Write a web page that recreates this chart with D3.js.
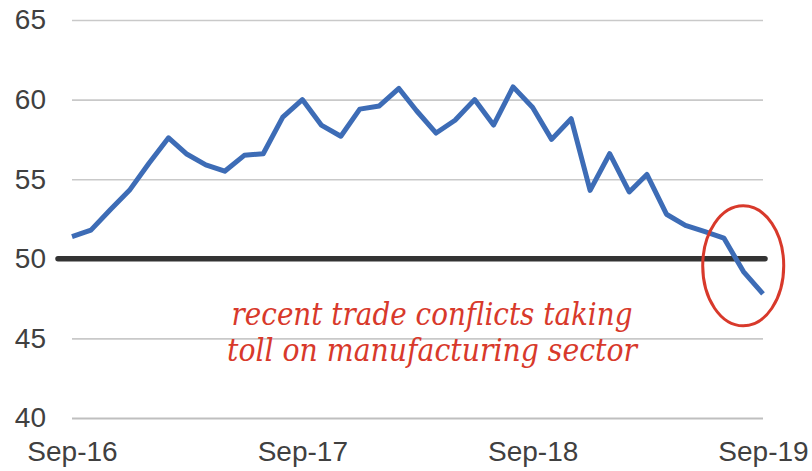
<!DOCTYPE html>
<html>
<head>
<meta charset="utf-8">
<script src="https://cdn.jsdelivr.net/npm/d3@7"></script>
<style>
  body { margin: 0; background: #fff; }
  svg { display: block; }
  .axis text { font-family: "Liberation Sans", Arial, sans-serif; font-size: 28px; fill: #404040; }
  .grid line { stroke: #c9c9c9; stroke-width: 1.6px; }
  .note { font-family: "DejaVu Serif Condensed", "DejaVu Serif", Georgia, serif; font-style: italic; font-size: 31px; fill: #d8392b; }
</style>
</head>
<body>
<svg id="chart"></svg>
<script>
// monthly index readings, Sep-16 .. Sep-19
var startMonth = "2016-09";
var pmiValues = [51.4, 51.8, 53.1, 54.3, 56.0, 57.6, 56.6, 55.9, 55.5, 56.5,
                 56.6, 58.9, 60.0, 58.4, 57.7, 59.4, 59.6, 60.7, 59.3, 57.9,
                 58.7, 60.0, 58.4, 60.8, 59.5, 57.5, 58.8, 54.3, 56.6, 54.2,
                 55.3, 52.8, 52.1, 51.7, 51.3, 49.2, 47.8];
var xTickLabels = ["Sep-16", "Sep-17", "Sep-18", "Sep-19"];
var yTicks = [40, 45, 50, 55, 60, 65];
var threshold = 50;
var noteLines = ["recent trade conflicts taking", "toll on manufacturing sector"];

function drawChart() {
  var width = 812, height = 471;
  var plotLeft = 72, plotRight = 763, plotTop = 20, plotBottom = 418;

  var svg = d3.select("#chart").attr("width", width).attr("height", height);

  var parseMonth = d3.timeParse("%Y-%m");
  var start = parseMonth(startMonth);
  var data = pmiValues.map(function(v, i) {
    return { date: d3.timeMonth.offset(start, i), value: v };
  });

  var x = d3.scaleTime()
    .domain(d3.extent(data, function(d) { return d.date; }))
    .range([plotLeft, plotRight]);

  var y = d3.scaleLinear()
    .domain([d3.min(yTicks), d3.max(yTicks)])
    .range([plotBottom, plotTop]);

  // gridlines + y labels
  var yAxis = svg.append("g")
    .attr("class", "axis grid")
    .attr("transform", "translate(" + plotLeft + ",0)")
    .call(d3.axisLeft(y).tickValues(yTicks).tickSize(-(plotRight - plotLeft)).tickPadding(26));
  yAxis.select(".domain").remove();
  yAxis.selectAll(".tick").filter(function(d) { return d === 40; })
    .select("line").style("stroke", "#bfbfbf").style("stroke-width", "2.2px");

  // x labels
  var xTickDates = xTickLabels.map(function(l, i) { return d3.timeYear.offset(start, i); });
  var xAxis = svg.append("g")
    .attr("class", "axis")
    .attr("transform", "translate(0," + plotBottom + ")")
    .call(d3.axisBottom(x).tickValues(xTickDates).tickSize(0).tickPadding(23)
      .tickFormat(function(d, i) { return xTickLabels[i]; }));
  xAxis.select(".domain").remove();

  // threshold line at 50
  svg.append("line")
    .attr("x1", plotLeft - 14)
    .attr("x2", plotRight + 2)
    .attr("y1", y(threshold))
    .attr("y2", y(threshold))
    .attr("stroke", "#333333")
    .attr("stroke-width", 5.5)
    .attr("stroke-linecap", "round");

  var line = d3.line()
    .x(function(d) { return x(d.date); })
    .y(function(d) { return y(d.value); });

  svg.append("path")
    .datum(data)
    .attr("d", line)
    .attr("fill", "none")
    .attr("stroke", "#3d6cb6")
    .attr("stroke-width", 5)
    .attr("stroke-linejoin", "round");

  // ellipse highlighting latest readings
  var last = data[data.length - 1], prev = data[data.length - 2];
  svg.append("ellipse")
    .attr("cx", (x(last.date) + x(prev.date)) / 2 - 10)
    .attr("cy", y(threshold) + 7)
    .attr("rx", 40.5)
    .attr("ry", 60)
    .attr("fill", "none")
    .attr("stroke", "#d8392b")
    .attr("stroke-width", 3);

  var note = svg.append("text")
    .attr("class", "note")
    .attr("text-anchor", "middle");
  noteLines.forEach(function(t, i) {
    note.append("tspan")
      .attr("x", 432)
      .attr("y", 325 + i * 36)
      .attr("textLength", i === 0 ? 401 : 410)
      .attr("lengthAdjust", "spacingAndGlyphs")
      .text(t);
  });
}

drawChart();
</script>
</body>
</html>
